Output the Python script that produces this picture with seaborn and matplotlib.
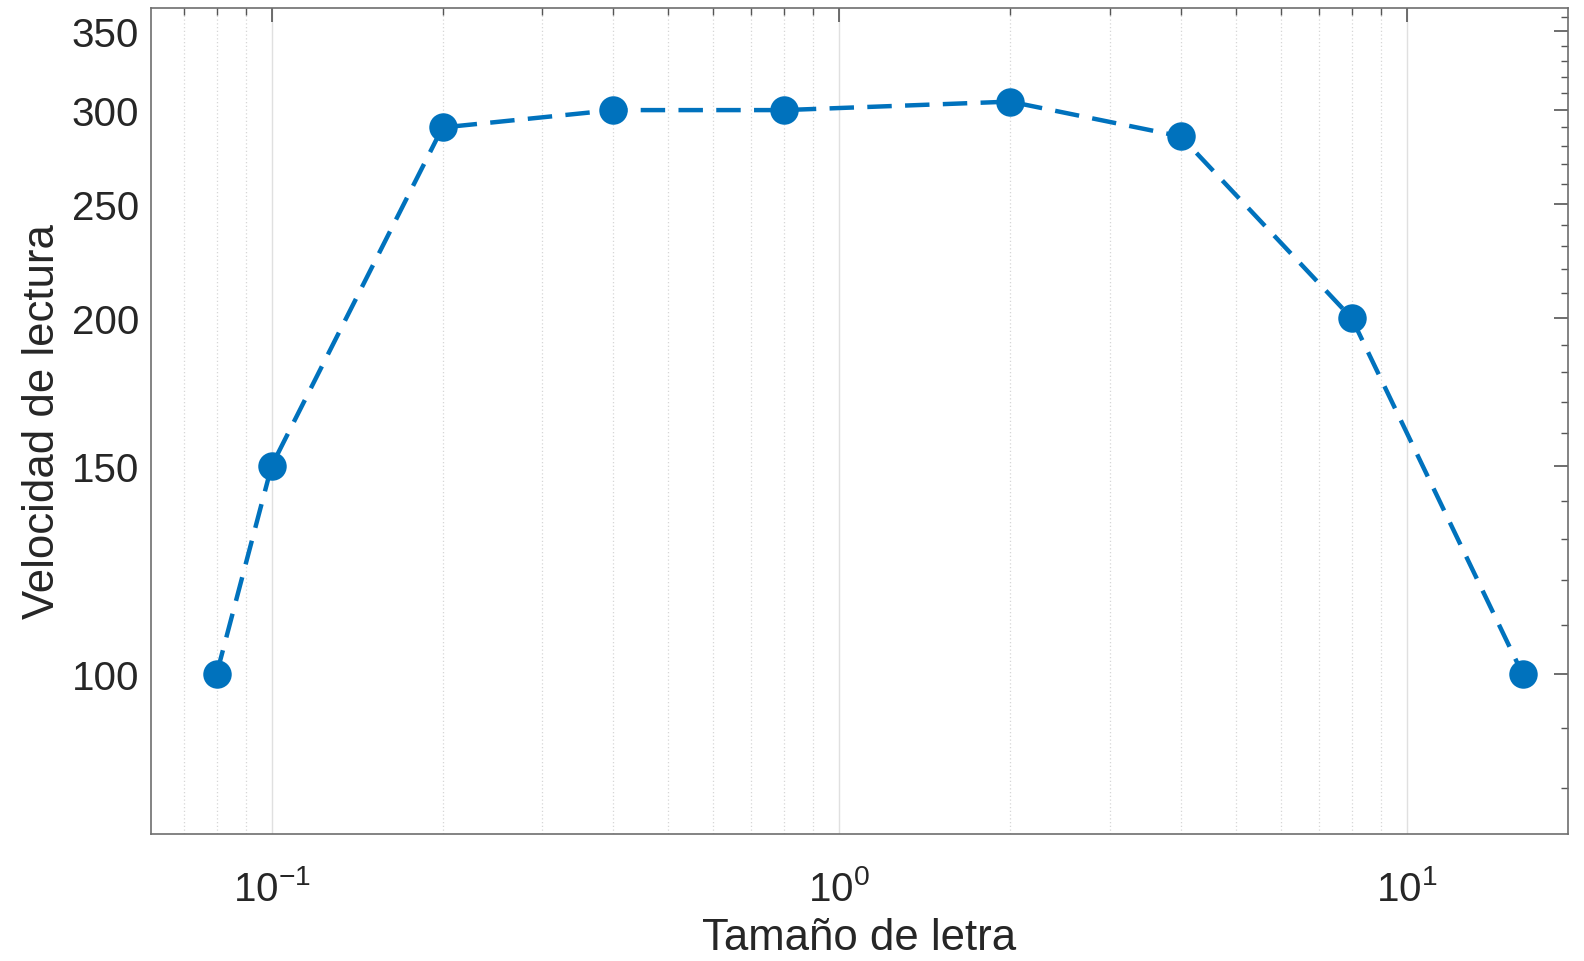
import numpy as np
import pandas as pd
import matplotlib
matplotlib.use("Agg")
import matplotlib.pyplot as plt
import matplotlib.ticker as mticker
import seaborn as sns

tamano = [0.08, 0.1, 0.2, 0.4, 0.8, 2, 4, 8, 16]
velocidad = [100, 150, 290, 300, 300, 305, 285, 200, 100]

y_major = [100, 150, 200, 250, 300, 350]
y_minor = [80, 90, 110, 120, 130, 140, 160, 170, 180, 190, 210, 220, 230, 240,
           260, 270, 280, 290, 310, 320, 330, 340, 360]

sns.set_theme(style="white")
plt.rcParams['font.family'] = ['Liberation Sans', 'DejaVu Sans']
plt.rcParams['mathtext.fontset'] = 'custom'
plt.rcParams['mathtext.rm'] = 'Liberation Sans'
plt.rcParams['mathtext.it'] = 'Liberation Sans:italic'
plt.rcParams['mathtext.bf'] = 'Liberation Sans:bold'

df = pd.DataFrame({'tamano': tamano, 'velocidad': velocidad})

fig = plt.figure(figsize=(15.84, 9.62), dpi=100)
ax = fig.add_axes([0.0956, 0.132, 0.894, 0.8586])

sns.lineplot(data=df, x='tamano', y='velocidad', ax=ax, color='#0072BD',
             linewidth=3.2, linestyle=(0, (5.5, 3)), marker='o',
             markersize=20.5, markeredgewidth=0, markerfacecolor='#0072BD')

ax.set_xscale('log')
ax.set_yscale('log')
ax.set_xlim(0.0614, 19.2)
ax.set_ylim(73.2, 366)

ax.xaxis.set_major_locator(mticker.LogLocator(base=10))
ax.xaxis.set_major_formatter(mticker.FuncFormatter(
    lambda v, p: r'$\mathregular{10^{%d}}$' % int(round(np.log10(v)))))
ax.xaxis.set_minor_locator(mticker.LogLocator(base=10, subs=np.arange(2, 10)))
ax.xaxis.set_minor_formatter(mticker.NullFormatter())

ax.yaxis.set_major_locator(mticker.FixedLocator(y_major))
ax.yaxis.set_minor_locator(mticker.FixedLocator(y_minor))
ax.yaxis.set_major_formatter(mticker.FixedFormatter([str(v) for v in y_major]))
ax.yaxis.set_minor_formatter(mticker.NullFormatter())

ax.grid(True, which='major', axis='x', color='#e0e0e0', linewidth=1.0, linestyle='-')
ax.grid(True, which='minor', axis='x', color='#d6d6d6', linewidth=0.9, linestyle=(0, (1, 2)))
ax.grid(False, axis='y', which='both')
ax.set_axisbelow(True)

for s in ax.spines.values():
    s.set_visible(True)
    s.set_color('#6e6e6e')
    s.set_linewidth(1.2)

ax.tick_params(which='both', direction='in', top=True, right=True,
               color='#555555', labelcolor='#262626')
ax.tick_params(which='major', length=10, width=1.2, labelsize=29, pad=9)
ax.tick_params(which='minor', length=5, width=1.0)
ax.tick_params(axis='x', which='major', pad=25)

ax.set_xlabel('Tamaño de letra', fontsize=31.5, color='#262626', labelpad=7)
ax.set_ylabel('Velocidad de lectura', fontsize=31.5, color='#262626', labelpad=6)

fig.savefig('out.png', dpi=100)
